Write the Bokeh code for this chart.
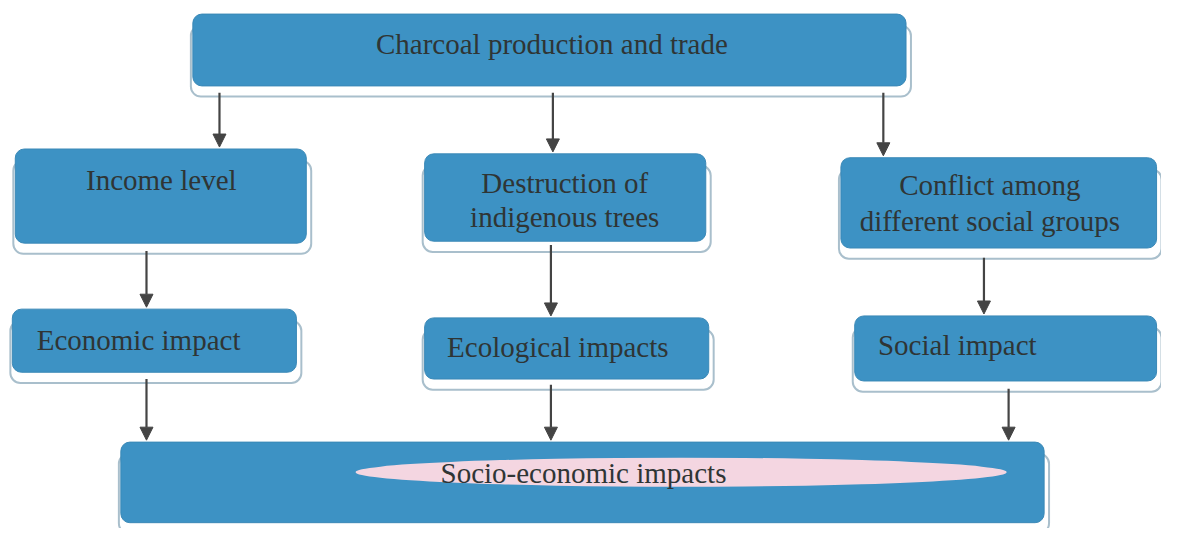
from bokeh.plotting import figure
from bokeh.models import Range1d, Arrow, NormalHead
from bokeh.core.properties import value
from bokeh.embed import file_html
from bokeh.resources import INLINE

# Boxes (reference image pixel coordinates)
box_left   = [195, 15, 430, 852, 12, 430, 866, 122]
box_right  = [918, 310, 715, 1172, 300, 718, 1172, 1058]
box_top    = [14, 153, 158, 162, 318, 327, 325, 455]
box_bottom = [88, 250, 248, 255, 383, 390, 392, 538]

# Text lines
text_str = ["Charcoal production and trade", "Income level",
            "Destruction of", "indigenous trees",
            "Conflict among", "different social groups",
            "Economic impact", "Ecological impacts", "Social impact",
            "Socio-economic impacts"]
text_x = [559, 163, 572, 572, 1003, 1003, 140, 565, 970, 591]
text_y = [45, 185, 188, 223, 190, 227, 350, 357, 355, 487]

# Arrows
arrow_x  = [222, 560, 895, 148, 558, 997, 148, 558, 1022]
arrow_y0 = [95, 95, 95, 258, 252, 265, 390, 396, 400]
arrow_y1 = [151, 156, 160, 316, 325, 323, 453, 453, 453]

W, H = 1161, 528
p = figure(width=W, height=H, output_backend="svg", toolbar_location=None,
           x_range=Range1d(0, 1177), y_range=Range1d(544, 0),
           min_border=0)
p.axis.visible = False
p.grid.visible = False
p.outline_line_color = None
p.background_fill_color = "white"
p.border_fill_color = "white"

# shadow plates
pl = [l - 2 for l in box_left]
pr = [r + 5 for r in box_right]
pt = [t + 12 for t in box_top]
pb = [b + 11 for b in box_bottom]
p.quad(left=pl, right=pr, top=pt, bottom=pb, fill_color="white",
       line_color="#a9bfcc", line_width=2, border_radius=10)

# boxes
p.quad(left=box_left, right=box_right, top=box_top, bottom=box_bottom,
       fill_color="#3d92c4", line_color="#3a88b6", line_width=1,
       border_radius=9)

# pink highlight on bottom box
p.ellipse(x=[690], y=[486], width=[660], height=[30], fill_color="#f4d6e1",
          line_color=None)

# arrows
for x, y0, y1 in zip(arrow_x, arrow_y0, arrow_y1):
    p.add_layout(Arrow(x_start=x, y_start=y0, x_end=x, y_end=y1,
                       line_color="#444444", line_width=2.2,
                       end=NormalHead(size=13, fill_color="#444444",
                                      line_color="#444444")))

p.text(x=text_x, y=text_y, text=text_str, text_align="center",
       text_baseline="middle", text_color="#2f3535",
       text_font=value("Liberation Serif"), text_font_size="29px")

open("out.html", "w").write(file_html(p, INLINE))
